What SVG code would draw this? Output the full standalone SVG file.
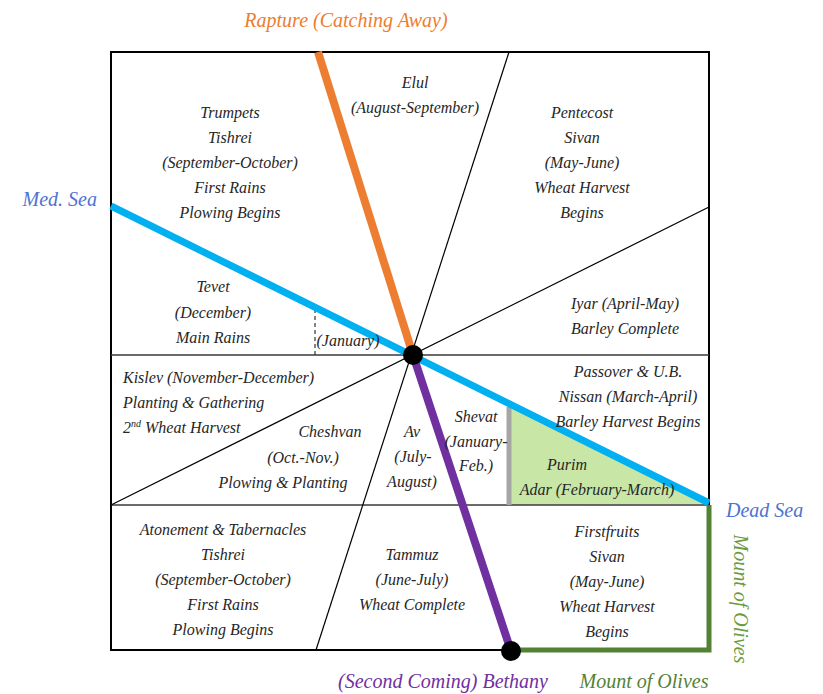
<svg xmlns="http://www.w3.org/2000/svg" width="823" height="694" viewBox="0 0 823 694">
<style>
text{font-family:'Liberation Serif','DejaVu Serif',serif;font-style:italic}
.t{font-size:16px;fill:#262626;text-anchor:middle}
.l{font-size:20px}
.thin{stroke:#000;stroke-width:1.2;fill:none}
.hz{stroke:#3a3a3a;stroke-width:1.6;fill:none}
</style>
<rect width="823" height="694" fill="#fff"/>
<g id="connectors">
<polygon id="purim-fill" points="511,408 709,504 511,505" fill="#c8e6a6"/>
<rect x="111" y="52" width="598" height="598" fill="none" stroke="#000" stroke-width="2"/>
<line class="hz" x1="111" y1="355" x2="709" y2="355"/>
<line class="hz" x1="111" y1="505" x2="709" y2="505"/>
<line class="thin" x1="509" y1="52" x2="316" y2="650"/>
<line class="thin" x1="111" y1="505" x2="709" y2="207"/>
<line x1="315" y1="309" x2="315" y2="355" stroke="#333" stroke-width="1.2" stroke-dasharray="4,3"/>
<line x1="509" y1="407" x2="509" y2="505" stroke="#a6a6a6" stroke-width="5"/>
<line x1="111" y1="206" x2="709" y2="503" stroke="#00b0f0" stroke-width="7"/>
<line x1="318" y1="52" x2="413" y2="355" stroke="#ed7d31" stroke-width="8"/>
<line x1="413" y1="355" x2="511" y2="651" stroke="#7030a0" stroke-width="8"/>
<polyline points="511,650 709,650 709,505" fill="none" stroke="#548235" stroke-width="5"/>
<circle cx="413" cy="355" r="10" fill="#000"/>
<circle cx="511" cy="651" r="10" fill="#000"/>
</g>
<g id="elul"><text class="t" x="415" y="88">Elul</text><text class="t" x="415" y="113">(August-September)</text></g>
<g id="trumpets"><text class="t" x="230" y="118">Trumpets</text><text class="t" x="230" y="143">Tishrei</text><text class="t" x="230" y="168">(September-October)</text><text class="t" x="230" y="193">First Rains</text><text class="t" x="230" y="218">Plowing Begins</text></g>
<g id="pentecost"><text class="t" x="582" y="118">Pentecost</text><text class="t" x="582" y="143">Sivan</text><text class="t" x="582" y="168">(May-June)</text><text class="t" x="582" y="193">Wheat Harvest</text><text class="t" x="582" y="218">Begins</text></g>
<g id="tevet"><text class="t" x="213" y="292">Tevet</text><text class="t" x="213" y="318">(December)</text><text class="t" x="213" y="343">Main Rains</text><text class="t" x="348" y="346">(January)</text></g>
<g id="iyar"><text class="t" x="625" y="309">Iyar (April-May)</text><text class="t" x="625" y="334">Barley Complete</text></g>
<g id="kislev"><text class="t" x="123" y="383" style="text-anchor:start">Kislev (November-December)</text><text class="t" x="123" y="408" style="text-anchor:start">Planting &amp; Gathering</text><text class="t" x="123" y="433" style="text-anchor:start">2<tspan font-size="10" dy="-6">nd</tspan><tspan dy="6"> Wheat Harvest</tspan></text></g>
<g id="cheshvan"><text class="t" x="330" y="437">Cheshvan</text><text class="t" x="303" y="463">(Oct.-Nov.)</text><text class="t" x="283" y="488">Plowing &amp; Planting</text></g>
<g id="av"><text class="t" x="412" y="437">Av</text><text class="t" x="413" y="462">(July-</text><text class="t" x="412" y="487">August)</text></g>
<g id="shevat"><text class="t" x="476" y="422">Shevat</text><text class="t" x="476" y="447">(January-</text><text class="t" x="476" y="471">Feb.)</text></g>
<g id="passover"><text class="t" x="628" y="377">Passover &amp; U.B.</text><text class="t" x="628" y="402">Nissan (March-April)</text><text class="t" x="628" y="427">Barley Harvest Begins</text></g>
<g id="purim"><text class="t" x="567" y="470">Purim</text><text class="t" x="597" y="495">Adar (February-March)</text></g>
<g id="atonement"><text class="t" x="223" y="535">Atonement &amp; Tabernacles</text><text class="t" x="223" y="560">Tishrei</text><text class="t" x="223" y="585">(September-October)</text><text class="t" x="223" y="610">First Rains</text><text class="t" x="223" y="635">Plowing Begins</text></g>
<g id="tammuz"><text class="t" x="412" y="560">Tammuz</text><text class="t" x="412" y="585">(June-July)</text><text class="t" x="412" y="610">Wheat Complete</text></g>
<g id="firstfruits"><text class="t" x="607" y="537">Firstfruits</text><text class="t" x="607" y="562">Sivan</text><text class="t" x="607" y="587">(May-June)</text><text class="t" x="607" y="612">Wheat Harvest</text><text class="t" x="607" y="637">Begins</text></g>
<g id="labels">
<text class="l" x="346" y="27" fill="#ed7d31" text-anchor="middle">Rapture (Catching Away)</text>
<text class="l" x="97" y="206" fill="#4f73d0" text-anchor="end" font-size="19">Med. Sea</text>
<text class="l" x="726" y="517" fill="#4f73d0" font-size="19">Dead Sea</text>
<text class="l" transform="translate(734,599) rotate(90)" fill="#6a9a3c" text-anchor="middle">Mount of Olives</text>
<text class="l" x="443" y="688" fill="#7030a0" text-anchor="middle">(Second Coming) Bethany</text>
<text class="l" x="644" y="688" fill="#548235" text-anchor="middle">Mount of Olives</text>
</g>
</svg>
